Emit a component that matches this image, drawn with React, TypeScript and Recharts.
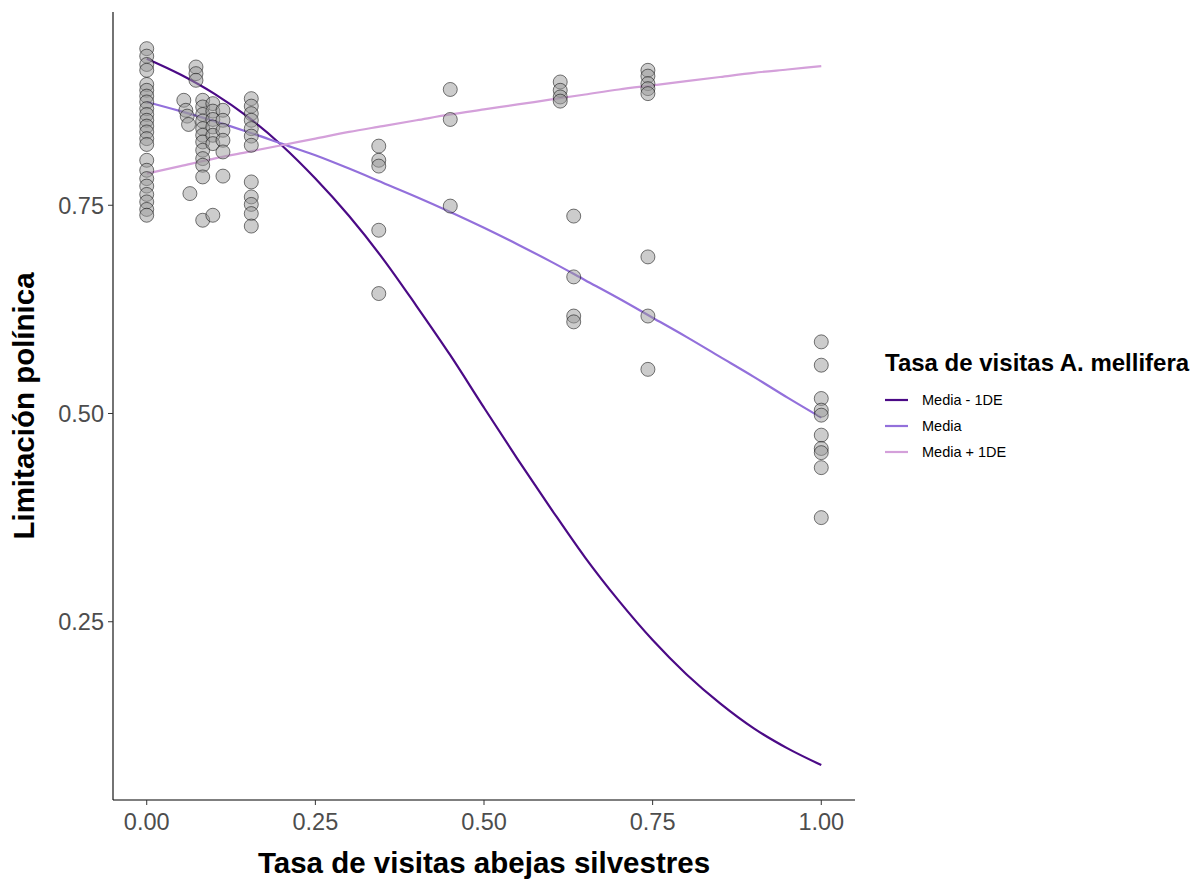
import React from 'react';
import { ComposedChart, Scatter, Line, XAxis, YAxis } from 'recharts';

const xTicks = [0, 0.25, 0.5, 0.75, 1];
const yTicks = [0.25, 0.5, 0.75];

const lineX = [0, 0.05, 0.1, 0.15, 0.2, 0.25, 0.3, 0.35, 0.4, 0.45, 0.5, 0.55, 0.6, 0.65, 0.7, 0.75, 0.8, 0.85, 0.9, 0.95, 1];
const mediaMenos = [0.926, 0.907, 0.884, 0.856, 0.822, 0.782, 0.737, 0.686, 0.629, 0.57, 0.507, 0.445, 0.385, 0.327, 0.275, 0.228, 0.187, 0.152, 0.122, 0.098, 0.078];
const mediaVal = [0.874, 0.863, 0.851, 0.838, 0.824, 0.81, 0.794, 0.777, 0.76, 0.742, 0.723, 0.703, 0.682, 0.66, 0.638, 0.615, 0.592, 0.568, 0.544, 0.519, 0.495];
const mediaMas = [0.788, 0.797, 0.806, 0.814, 0.822, 0.83, 0.838, 0.845, 0.852, 0.859, 0.865, 0.871, 0.877, 0.883, 0.889, 0.894, 0.899, 0.904, 0.909, 0.913, 0.917];

const seriesNames = ['Media - 1DE', 'Media', 'Media + 1DE'];
const seriesColors = ['#4B0A86', '#9370DB', '#D4A0DA'];

const puntos: [number, number][] = [
  [0, 0.938], [0, 0.929], [0, 0.919], [0, 0.912], [0, 0.895], [0, 0.888], [0, 0.881], [0, 0.874],
  [0, 0.866], [0, 0.859], [0, 0.852], [0, 0.845], [0, 0.838], [0, 0.83], [0, 0.823], [0, 0.804],
  [0, 0.792], [0, 0.782], [0, 0.773], [0, 0.763], [0, 0.754], [0, 0.745], [0, 0.738],
  [0.055, 0.876], [0.058, 0.864], [0.06, 0.857], [0.062, 0.847], [0.064, 0.764],
  [0.073, 0.916], [0.073, 0.908], [0.073, 0.9],
  [0.083, 0.876], [0.083, 0.868], [0.083, 0.859], [0.083, 0.851], [0.083, 0.842], [0.083, 0.834],
  [0.083, 0.826], [0.083, 0.816], [0.083, 0.806], [0.083, 0.798], [0.083, 0.784], [0.083, 0.732],
  [0.098, 0.872], [0.098, 0.863], [0.098, 0.853], [0.098, 0.844], [0.098, 0.834], [0.098, 0.824], [0.098, 0.738],
  [0.113, 0.864], [0.113, 0.852], [0.113, 0.84], [0.113, 0.828], [0.113, 0.814], [0.113, 0.785],
  [0.155, 0.878], [0.155, 0.869], [0.155, 0.86], [0.155, 0.852], [0.155, 0.842], [0.155, 0.833],
  [0.155, 0.822], [0.155, 0.778], [0.155, 0.76], [0.155, 0.751], [0.155, 0.74], [0.155, 0.725],
  [0.344, 0.821], [0.344, 0.804], [0.344, 0.797], [0.344, 0.72], [0.344, 0.644],
  [0.45, 0.889], [0.45, 0.853], [0.45, 0.749],
  [0.613, 0.898], [0.613, 0.888], [0.613, 0.88], [0.613, 0.875],
  [0.633, 0.737], [0.633, 0.664], [0.633, 0.617], [0.633, 0.61],
  [0.743, 0.912], [0.743, 0.905], [0.743, 0.896], [0.743, 0.89], [0.743, 0.884],
  [0.743, 0.688], [0.743, 0.617], [0.743, 0.553],
  [1, 0.586], [1, 0.558], [1, 0.518], [1, 0.504], [1, 0.498], [1, 0.474], [1, 0.458], [1, 0.453], [1, 0.435], [1, 0.375],
];

const scatterData = puntos.map(([x, y]) => ({ x, y }));
const seriesValues = [mediaMenos, mediaVal, mediaMas];
const lineData = seriesValues.map((vals) => lineX.map((x, i) => ({ x, y: vals[i] })));

const FONT = '"Liberation Sans", Arial, sans-serif';

const Punto = (props: any) => {
  const { cx, cy } = props;
  if (cx == null || cy == null) return null;
  return (
    <circle cx={cx} cy={cy} r={7} fill="#999999" fillOpacity={0.5} stroke="#000000" strokeOpacity={0.65} strokeWidth={0.8} />
  );
};

const LegendBox = () => (
  <svg width={313} height={130} style={{ position: 'absolute', left: 884, top: 340 }}>
    <text x={1} y={31} fontFamily={FONT} fontWeight="bold" fontSize={24} fill="#000">
      Tasa de visitas A. mellifera
    </text>
    {seriesNames.map((n, i) => (
      <g key={n}>
        <line x1={1} y1={60 + i * 26} x2={24} y2={60 + i * 26} stroke={seriesColors[i]} strokeWidth={2.2} />
        <text x={38} y={65 + i * 26} fontFamily={FONT} fontSize={14.5} fill="#000">
          {n}
        </text>
      </g>
    ))}
  </svg>
);

const XLabel = (props: any) => {
  const vb = props.viewBox || {};
  return (
    <text x={vb.x + vb.width / 2} y={873} textAnchor="middle" fontFamily={FONT} fontWeight="bold" fontSize={29.5} fill="#000">
      Tasa de visitas abejas silvestres
    </text>
  );
};

const YLabel = (props: any) => {
  const vb = props.viewBox || {};
  const cy = vb.y + vb.height / 2;
  return (
    <text x={0} y={0} textAnchor="middle" transform={`translate(34 ${cy}) rotate(-90)`} fontFamily={FONT} fontWeight="bold" fontSize={29.5} fill="#000">
      Limitación polínica
    </text>
  );
};

export default function App() {
  return (
    <div style={{ position: 'absolute', left: 0, top: 0, width: 1197, height: 879, background: '#fff', fontFamily: FONT }}>
      <ComposedChart width={1197} height={879} margin={{ top: 12, right: 342, bottom: 0, left: 0 }}>
        <XAxis
          type="number"
          dataKey="x"
          domain={[-0.05, 1.05]}
          ticks={xTicks}
          tickFormatter={(v: number) => v.toFixed(2)}
          height={79}
          tickSize={5}
          tickMargin={8}
          allowDataOverflow
          stroke="#000"
          tick={{ fill: '#4D4D4D', fontSize: 23.5, fontFamily: FONT }}
          tickLine={{ stroke: '#333' }}
          axisLine={{ stroke: '#000', strokeWidth: 1.1 }}
          label={<XLabel />}
        />
        <YAxis
          type="number"
          dataKey="y"
          domain={[0.036, 0.982]}
          ticks={yTicks}
          tickFormatter={(v: number) => v.toFixed(2)}
          width={113}
          tickSize={5}
          tickMargin={4}
          allowDataOverflow
          stroke="#000"
          tick={{ fill: '#4D4D4D', fontSize: 23.5, fontFamily: FONT }}
          tickLine={{ stroke: '#333' }}
          axisLine={{ stroke: '#000', strokeWidth: 1.1 }}
          label={<YLabel />}
        />
        <Scatter data={scatterData} dataKey="y" shape={<Punto />} isAnimationActive={false} legendType="none" />
        {lineData.map((d, i) => (
          <Line
            key={seriesNames[i]}
            data={d}
            dataKey="y"
            name={seriesNames[i]}
            type="monotone"
            stroke={seriesColors[i]}
            strokeWidth={2.2}
            dot={false}
            activeDot={false}
            isAnimationActive={false}
          />
        ))}
      </ComposedChart>
      <LegendBox />
    </div>
  );
}
